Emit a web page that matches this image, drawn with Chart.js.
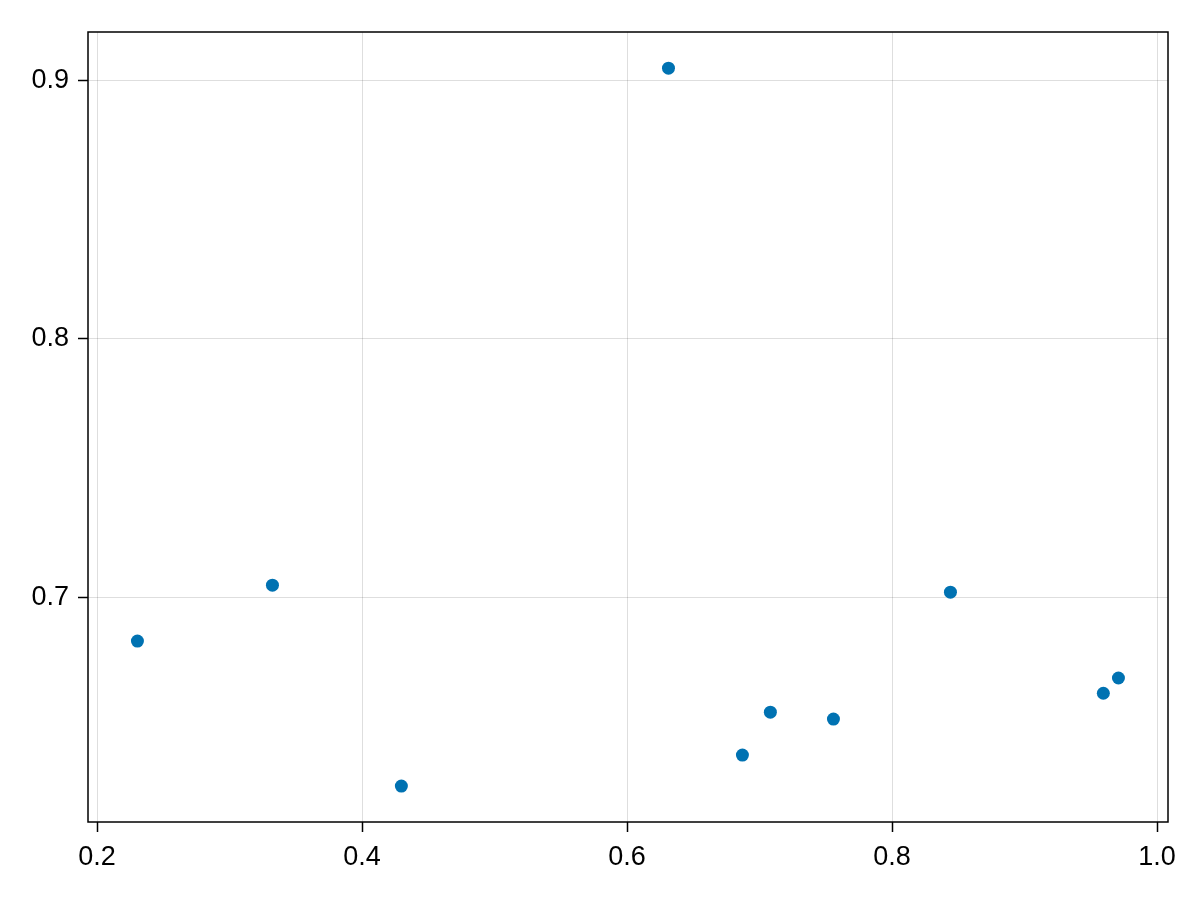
<!DOCTYPE html>
<html>
<head>
<meta charset="utf-8">
<script src="https://cdn.jsdelivr.net/npm/chart.js@4.4.1/dist/chart.umd.min.js"></script>
<style>
  html, body { margin: 0; padding: 0; background: #fff; }
  #wrap { width: 1200px; height: 900px; }
</style>
</head>
<body>
<div id="wrap"><canvas id="chart" width="1200" height="900"></canvas></div>
<script>
// values
const xValues = [0.2305, 0.3324, 0.4297, 0.6313, 0.6871, 0.7082, 0.7558, 0.8441, 0.9595, 0.9709];
const yValues = [0.6830, 0.7046, 0.6269, 0.9046, 0.6389, 0.6555, 0.6528, 0.7019, 0.6628, 0.6687];
const xTicks = [0.2, 0.4, 0.6, 0.8, 1.0];
const yTicks = [0.7, 0.8, 0.9];

const points = xValues.map((x, i) => ({ x: x, y: yValues[i] }));

// box round the plot area
const frame = {
    id: 'frame',
    afterDraw(chart) {
        const a = chart.chartArea;
        const ctx = chart.ctx;
        ctx.save();
        ctx.strokeStyle = '#000';
        ctx.lineWidth = 1.5;
        ctx.strokeRect(a.left, a.top, a.right - a.left, a.bottom - a.top);
        ctx.restore();
    }
};

const tickFont = { family: '"Liberation Sans", Arial, sans-serif', size: 27 };

new Chart(document.getElementById('chart'), {
    type: 'scatter',
    data: {
        datasets: [{
            data: points,
            backgroundColor: '#0072b2',
            borderWidth: 0,
            pointRadius: 6.5,
            pointHoverRadius: 6.5
        }]
    },
    options: {
        responsive: false,
        animation: false,
        layout: { padding: { left: 0, top: 32, right: 32, bottom: 0 } },
        plugins: { legend: { display: false }, tooltip: { enabled: false } },
        scales: {
            x: {
                type: 'linear',
                min: 0.1932,
                max: 1.0083,
                afterBuildTicks: (s) => { s.ticks = xTicks.map(v => ({ value: v })); },
                afterFit: (s) => { s.height = 78; },
                grid: { color: 'rgba(0,0,0,0.13)', lineWidth: 1, tickColor: '#000', tickLength: 10, tickWidth: 1.5 },
                border: { display: false },
                ticks: { color: '#000', font: tickFont, padding: 9, maxRotation: 0,
                    callback: (v) => v.toFixed(1) }
            },
            y: {
                type: 'linear',
                min: 0.6130,
                max: 0.9186,
                afterBuildTicks: (s) => { s.ticks = yTicks.map(v => ({ value: v })); },
                afterFit: (s) => { s.width = 88; },
                grid: { color: 'rgba(0,0,0,0.13)', lineWidth: 1, tickColor: '#000', tickLength: 10, tickWidth: 1.5 },
                border: { display: false },
                ticks: { color: '#000', font: tickFont, padding: 9,
                    callback: (v) => v.toFixed(1) }
            }
        }
    },
    plugins: [frame]
});
</script>
</body>
</html>
